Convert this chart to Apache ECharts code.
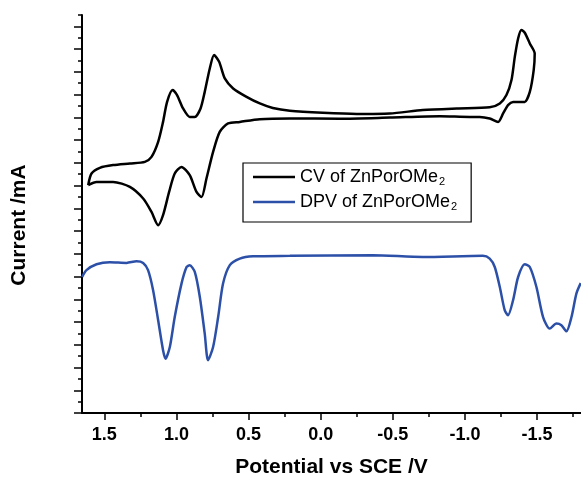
<!DOCTYPE html>
<html>
<head>
<meta charset="utf-8">
<script src="https://cdn.jsdelivr.net/npm/echarts@6/dist/echarts.min.js"></script>
<style>
    html, body { margin: 0; padding: 0; background: #fff; }
    #chart { width: 581px; height: 482px; }
</style>
</head>
<body>
<div id="chart"></div>
<script>
// CV loop (potential in V, current in arbitrary units)
const cvPotential = [
    1.612, 1.589, 1.531, 1.439, 1.323, 1.219, 1.173, 1.127, 1.093, 1.065, 1.027, 0.996,
    0.954, 0.908, 0.873, 0.833, 0.804, 0.769, 0.739, 0.704, 0.665, 0.607, 0.514, 0.422,
    0.332, 0.214, -0.015, -0.250, -0.479, -0.708, -0.944, -1.172, -1.242, -1.288, -1.323,
    -1.346, -1.369, -1.392, -1.415, -1.450, -1.484, -1.477, -1.450, -1.415, -1.380, -1.334,
    -1.299, -1.265, -1.230, -1.172, -1.103, -1.034, -0.826, -0.479, -0.132, 0.214, 0.422,
    0.561, 0.642, 0.700, 0.746, 0.792, 0.826, 0.861, 0.908, 0.965, 1.012, 1.051, 1.093,
    1.127, 1.173, 1.231, 1.323, 1.439, 1.554, 1.612
];
const cvCurrent = [
    10.02, 10.53, 10.78, 10.90, 10.97, 11.04, 11.26, 11.92, 12.80, 13.68, 14.20, 13.98,
    13.39, 13.02, 13.02, 13.39, 14.12, 15.15, 15.74, 15.44, 14.71, 14.27, 13.90, 13.61,
    13.41, 13.29, 13.20, 13.15, 13.17, 13.32, 13.39, 13.44, 13.61, 13.98, 14.64,
    15.66, 16.47, 16.84, 16.72, 16.25, 15.81, 15.08, 14.12, 13.68, 13.68, 13.68,
    13.54, 13.17, 12.80, 12.95, 13.02, 13.02, 13.05, 12.99, 12.94, 12.95, 12.92,
    12.80, 12.73, 12.36, 11.48, 10.31, 9.50, 9.72, 10.46, 10.82, 10.53, 9.72, 8.70,
    8.26, 8.84, 9.43, 9.94, 10.16, 10.16, 10.02
];

// DPV trace
const dpvPotential = [
    1.654, 1.624, 1.554, 1.462, 1.346, 1.277, 1.231, 1.197, 1.162, 1.127, 1.093, 1.076,
    1.046, 1.012, 0.965, 0.930, 0.908, 0.873, 0.838, 0.804, 0.781, 0.746, 0.711, 0.677,
    0.630, 0.561, 0.469, 0.214, -0.361, -0.708, -1.124, -1.172, -1.207, -1.242, -1.276,
    -1.299, -1.334, -1.369, -1.415, -1.450, -1.496, -1.542, -1.588, -1.635, -1.669,
    -1.704, -1.739, -1.773, -1.803
];
const dpvCurrent = [
    5.98, 6.28, 6.54, 6.63, 6.60, 6.67, 6.60, 6.28, 5.40, 4.08, 2.76, 2.39,
    2.90, 4.22, 5.69, 6.42, 6.50, 6.20, 5.10, 3.49, 2.32, 2.90, 4.22, 5.69,
    6.50, 6.79, 6.89, 6.91, 6.94, 6.86, 6.91, 6.79, 6.42, 5.54, 4.52,
    4.30, 4.96, 5.98, 6.54, 6.42, 5.54, 4.22, 3.71, 3.93, 3.86,
    3.59, 4.22, 5.25, 5.71
];

const xMajorTicks = [1.5, 1.0, 0.5, 0.0, -0.5, -1.0, -1.5];
const xMinorTicks = [1.25, 0.75, 0.25, -0.25, -0.75, -1.25, -1.75];
const yMajorTicks = [0, 1, 2, 3, 4, 5, 6, 7, 8, 9, 10, 11, 12, 13, 14, 15, 16, 17];
const yMinorTicks = [0.5, 1.5, 2.5, 3.5, 4.5, 5.5, 6.5, 7.5, 8.5, 9.5, 10.5, 11.5, 12.5,
    13.5, 14.5, 15.5, 16.5, 17.5];

const seriesNames = ['CV of ZnPorOMe2', 'DPV of ZnPorOMe2'];

const zip = (xs, ys) => xs.map((x, i) => [x, ys[i]]);
const font = 'Liberation Sans, Arial, sans-serif';

const chart = echarts.init(document.getElementById('chart'));
const option = {
    animation: false,
    grid: { left: 82, right: 0, top: 15, bottom: 69, outerBoundsMode: 'none' },
    legend: {
        orient: 'vertical',
        left: 243,
        top: 163,
        padding: [5, 14, 10, 10],
        icon: 'rect',
        itemWidth: 42,
        itemHeight: 2.5,
        itemGap: 6,
        borderColor: '#000',
        borderWidth: 1.2,
        data: seriesNames,
        formatter: name => '{t|' + name.slice(0, -1) + '}{s|' + name.slice(-1) + '}',
        textStyle: {
            rich: {
                t: { fontSize: 18, fontFamily: font, color: '#000', lineHeight: 21 },
                s: { fontSize: 11, fontFamily: font, color: '#000', padding: [9, 0, 0, 1] }
            }
        }
    },
    xAxis: [
        {
            type: 'value',
            inverse: true,
            min: -1.805,
            max: 1.655,
            position: 'bottom',
            name: 'Potential vs SCE /V',
            nameLocation: 'middle',
            nameGap: 44,
            nameTextStyle: { fontSize: 21, fontWeight: 'bold', fontFamily: font, color: '#000' },
            splitLine: { show: false },
            axisLine: { onZero: false, lineStyle: { color: '#000', width: 2 } },
            axisTick: { customValues: xMajorTicks, length: 7, lineStyle: { color: '#000', width: 1.5 } },
            axisLabel: {
                customValues: xMajorTicks,
                margin: 13,
                fontSize: 18,
                fontWeight: 'bold',
                fontFamily: font,
                color: '#000',
                formatter: v => v.toFixed(1)
            }
        },
        {
            type: 'value',
            inverse: true,
            min: -1.805,
            max: 1.655,
            position: 'bottom',
            splitLine: { show: false },
            axisLine: { show: false, onZero: false },
            axisTick: { customValues: xMinorTicks, length: 4, lineStyle: { color: '#000', width: 1.5 } },
            axisLabel: { show: false }
        }
    ],
    yAxis: [
        {
            type: 'value',
            min: 0,
            max: 17.5,
            position: 'left',
            name: 'Current /mA',
            nameLocation: 'middle',
            nameGap: 52,
            nameTextStyle: { fontSize: 21, fontWeight: 'bold', fontFamily: font, color: '#000', padding: [0, 0, 0, -22] },
            splitLine: { show: false },
            axisLine: { show: true, onZero: false, lineStyle: { color: '#000', width: 2 } },
            axisTick: { show: true, customValues: yMajorTicks, length: 8, lineStyle: { color: '#000', width: 1.5 } },
            axisLabel: { show: false }
        },
        {
            type: 'value',
            min: 0,
            max: 17.5,
            position: 'left',
            splitLine: { show: false },
            axisLine: { show: false, onZero: false },
            axisTick: { show: true, customValues: yMinorTicks, length: 4, lineStyle: { color: '#000', width: 1.5 } },
            axisLabel: { show: false }
        }
    ],
    series: [
        {
            name: seriesNames[0],
            type: 'line',
            symbol: 'none',
            smooth: 0.25,
            lineStyle: { color: '#000', width: 2.5 },
            itemStyle: { color: '#000' },
            data: zip(cvPotential, cvCurrent)
        },
        {
            name: seriesNames[1],
            type: 'line',
            symbol: 'none',
            smooth: 0.25,
            lineStyle: { color: '#2c50a8', width: 2.5 },
            itemStyle: { color: '#2c50a8' },
            data: zip(dpvPotential, dpvCurrent)
        }
    ]
};
chart.setOption(option);
</script>
</body>
</html>
